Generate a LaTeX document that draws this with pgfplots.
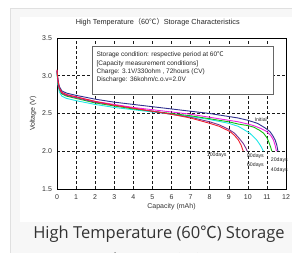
\documentclass[border=0pt]{standalone}
\usepackage{pgfplots}
\pgfplotsset{compat=1.18}
\usepackage{fontspec}
\setmainfont{Liberation Sans}
\newfontfamily\cjk{Noto Sans CJK SC}
\newfontfamily\osans{Open Sans}
\definecolor{cinit}{HTML}{303090}
\definecolor{c20}{HTML}{F020E0}
\definecolor{c40}{HTML}{10C010}
\definecolor{c60}{HTML}{20E8E8}
\definecolor{c80}{HTML}{7A3090}
\definecolor{c100}{HTML}{F02030}
\begin{document}
\begin{tikzpicture}[x=1pt,y=1pt]
\path[use as bounding box] (0,0) rectangle (292,253);
\fill[white] (0,0) rectangle (292,253);
\fill[black!3] (10,0) rectangle (292,245);
\draw[black!12] (10,0) -- (10,245) -- (292,245);
\fill[white] (20,31) rectangle (292,236);
\node[text=black!80, font=\osans\fontsize{16.5}{20}\selectfont] at (159,19) {High Temperature (60{\cjk ℃}) Storage};
\node[text=black!80, font=\osans\fontsize{16.5}{20}\selectfont, anchor=north] at (159,4) {Characteristics};
\begin{axis}[
  at={(57pt,64pt)}, anchor=south west,
  width=229pt, height=151pt, scale only axis,
  xmin=0, xmax=12, ymin=1.5, ymax=3.5,
  xtick={0,...,12}, ytick={1.5,2.0,2.5,3.0,3.5},
  yticklabel style={/pgf/number format/fixed,/pgf/number format/fixed zerofill,/pgf/number format/precision=1, xshift=-1.5pt},
  /pgf/number format/assume math mode=true,
  tick label style={font=\fontsize{7}{8}\selectfont, text=black!80},
  xticklabel style={yshift=-2pt},
  major tick length=0pt,
  grid=major,
  major grid style={black!90, line width=0.5pt, dash pattern=on 2.5pt off 2.5pt},
  axis line style={black, line width=0.7pt},
  xlabel={Capacity (mAh)}, ylabel={Voltage (V)},
  label style={font=\fontsize{7}{8}\selectfont, text=black!80},
  xlabel style={yshift=3pt},
  ylabel style={yshift=-1pt},
  title={High Temperature{\cjk （60℃）}Storage Characteristics},
  title style={font=\fontsize{7.3}{8}\selectfont, text=black!85, at={(rel axis cs:0.44,1)}, anchor=south, yshift=2pt},
  clip=false,
  every axis plot/.append style={line width=0.9pt, no markers},
]
\addplot[c60] coordinates {(0,3.03)(0.05,2.88)(0.12,2.79)(0.25,2.73)(0.5,2.70)(1,2.67)(2,2.62)(3,2.58)(4,2.55)(5,2.52)(6,2.49)(7,2.46)(8,2.42)(9,2.37)(9.5,2.33)(9.77,2.29)(10.1,2.24)(10.3,2.19)(10.46,2.15)(10.6,2.10)(10.72,2.05)(10.82,2.0)};
\addplot[c40] coordinates {(0,3.05)(0.05,2.91)(0.12,2.82)(0.25,2.76)(0.5,2.73)(1,2.70)(2,2.64)(3,2.60)(4,2.56)(5,2.53)(6,2.50)(7,2.47)(8,2.43)(9,2.39)(9.5,2.36)(10,2.34)(10.3,2.32)(10.6,2.28)(10.82,2.24)(11.0,2.18)(11.1,2.12)(11.2,2.05)(11.26,2.0)};
\addplot[c80] coordinates {(0,3.06)(0.05,2.92)(0.12,2.83)(0.25,2.77)(0.5,2.74)(1,2.71)(2,2.65)(3,2.61)(4,2.57)(5,2.53)(6,2.49)(7,2.45)(8,2.39)(8.5,2.35)(9,2.29)(9.3,2.24)(9.55,2.17)(9.77,2.10)(9.9,2.04)(9.97,2.0)};
\addplot[c20] coordinates {(0,3.07)(0.05,2.93)(0.12,2.84)(0.25,2.78)(0.5,2.75)(1,2.72)(2,2.66)(3,2.62)(4,2.58)(5,2.55)(6,2.52)(7,2.49)(8,2.45)(9,2.41)(9.5,2.39)(10,2.36)(10.3,2.34)(10.7,2.30)(11,2.26)(11.2,2.21)(11.34,2.15)(11.44,2.07)(11.5,2.0)};
\addplot[cinit] coordinates {(0,3.07)(0.05,2.95)(0.12,2.86)(0.25,2.80)(0.5,2.77)(1,2.74)(2,2.69)(3,2.65)(4,2.62)(5,2.59)(6,2.56)(7,2.53)(8,2.50)(9,2.46)(9.5,2.44)(10,2.41)(10.5,2.37)(10.9,2.31)(11.16,2.26)(11.3,2.21)(11.43,2.15)(11.52,2.08)(11.58,2.0)};
\addplot[c100] coordinates {(0,3.08)(0.05,2.94)(0.12,2.84)(0.25,2.78)(0.5,2.75)(1,2.72)(2,2.66)(3,2.61)(4,2.57)(5,2.53)(6,2.49)(7,2.44)(8,2.37)(8.5,2.33)(9.07,2.26)(9.3,2.21)(9.5,2.15)(9.65,2.08)(9.76,2.0)};
\draw[black!60, fill=white, line width=0.6pt] (rel axis cs:0.153,0.629) rectangle (rel axis cs:0.943,0.947);
\node[anchor=north west, align=left, font=\fontsize{6.5}{8.4}\selectfont, text=black!85, inner sep=0pt] at (rel axis cs:0.172,0.91) {Storage condition: respective period at 60{\cjk ℃}\\{}[Capacity measurement conditions]\\Charge: 3.1V/330ohm , 72hours (CV)\\Discharge: 36kohm/c.o.v=2.0V};
\begin{scope}[every node/.style={font=\fontsize{5.2}{6}\selectfont, text=black!85, inner sep=0.5pt}]
\node at (axis cs:10.68,2.42) {Initial};
\node at (axis cs:8.37,1.95) {100days};
\node at (axis cs:10.4,1.94) {80days};
\node at (axis cs:10.4,1.81) {60days};
\node at (axis cs:11.65,1.88) {20days};
\node at (axis cs:11.65,1.75) {40days};
\end{scope}
\end{axis}
\end{tikzpicture}
\end{document}
